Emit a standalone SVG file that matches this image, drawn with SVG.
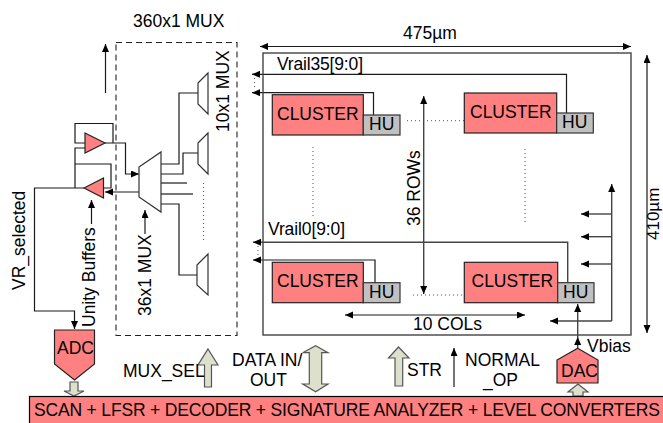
<svg xmlns="http://www.w3.org/2000/svg" width="663" height="423" viewBox="0 0 663 423">
<defs>
<marker id="a" markerUnits="userSpaceOnUse" markerWidth="9" markerHeight="8" refX="8" refY="3.500" orient="auto-start-reverse"><path d="M0,0 L8,3.500 L0,7 z" fill="#000"/></marker>
</defs>
<style>
text{font-family:"Liberation Sans",Arial,sans-serif;font-size:17.500px;fill:#000}
.w{fill:none;stroke:#1a1a1a;stroke-width:1.200}
.g{fill:none;stroke:#444;stroke-width:1.400}
.ar{marker-end:url(#a)}
.ar2{marker-start:url(#a);marker-end:url(#a)}
.dot{fill:none;stroke:#555;stroke-width:1;stroke-dasharray:1 3}
.red{fill:#ff8080;stroke:#222;stroke-width:1.200}
.gray{fill:#c0c0c0;stroke:#333;stroke-width:1.200}
.big{fill:#dde0cc;stroke:#555;stroke-width:1.200}
.mux{fill:#fff;stroke:#333;stroke-width:1.200}
</style>
<g id="connectors">
<path class="w ar" d="M105.500,93V44"/>
<path class="w ar" d="M105,143H125.500V174H139"/>
<path class="w" d="M113,143V123.500H75V143H85"/>
<path class="w" d="M85,148H75V188"/>
<path class="w" d="M75,164H111V188H103"/>
<path class="w ar" d="M139,192H105"/>
<path class="w ar" d="M84,188H34.500V311H74.500V329"/>
<path class="w" d="M161,164H179V93H198"/>
<path class="w" d="M161,174H183V153H198"/>
<path class="w" d="M161,183H187"/>
<path class="w" d="M161,194H193"/>
<path class="w" d="M161,204H179V275H197"/>
<path class="dot" d="M203.500,183V243"/>
<path class="w ar" d="M91.500,224V200"/>
<path class="w ar" d="M145,234V210"/>
<path class="w ar2" d="M260,46.500H631"/>
<path class="w ar2" d="M647,55V333"/>
<path class="w ar" d="M566.500,113V74.300H252"/>
<path class="w ar" d="M373.500,115V92.700H252"/>
<path class="dot" d="M254.500,78V88"/>
<path class="g ar" d="M567.700,282.700V242.300H253"/>
<path class="w ar" d="M375,282.700V260H253"/>
<path class="dot" d="M258,246V256"/>
<path class="dot" d="M407,120.700H477"/>
<path class="dot" d="M313,147V217"/>
<path class="dot" d="M525,149V222"/>
<path class="dot" d="M413,295H483"/>
<path class="g ar2" d="M423.700,96V294"/>
<path class="w ar2" d="M345,315H525"/>
<path class="g ar" d="M611.700,321V184"/>
<path class="g ar" d="M611.700,321H550"/>
<path class="g ar" d="M611.700,214H581"/>
<path class="g ar" d="M611.700,236.700H581"/>
<path class="g ar" d="M611.700,264H581"/>
<path class="g ar" d="M577.700,337V304"/>
<path class="g ar" d="M577.700,348V337"/>
<path class="w ar" d="M454,387V348"/>
</g>
<g id="mux-360"><rect x="116" y="42.500" width="121" height="293" fill="none" stroke="#222" stroke-width="1.100" stroke-dasharray="6 4"/><text x="133" y="27">360x1 MUX</text></g>
<g id="mux-10-a"><path class="mux" d="M198,83L208,73V114L198,104z"/></g>
<g id="mux-10-b"><path class="mux" d="M198,143L208,133V174L198,164z"/></g>
<g id="mux-10-c"><path class="mux" d="M197,265L208,254V295L197,285z"/></g>
<g id="mux-36"><path class="mux" d="M139,167L161,152V212L139,197z"/></g>
<g id="buffer-1"><path class="red" d="M85,133L105,143L85,153z"/></g>
<g id="buffer-2"><path class="red" d="M84,188L103.500,178V198z"/></g>
<g id="label-10x1"><text transform="translate(229,132) rotate(-90)">10x1 MUX</text></g>
<g id="label-36x1"><text transform="translate(151,316) rotate(-90)">36x1 MUX</text></g>
<g id="label-unity"><text transform="translate(95,327) rotate(-90)">Unity Buffers</text></g>
<g id="label-vr"><text transform="translate(25,290) rotate(-90)">VR_selected</text></g>
<g id="adc"><path class="red" d="M54.500,330H94.500V364L74.500,380L54.500,364z"/><text x="57" y="354">ADC</text></g>
<g id="adc-arrow"><path class="big" d="M70,382H78V391H84L74,396L64,391H70z"/></g>
<g id="chip"><rect x="263" y="53" width="368" height="282" fill="none" stroke="#444" stroke-width="1.400"/></g>
<g id="label-475"><text x="403" y="39">475µm</text></g>
<g id="label-410"><text transform="translate(658.500,240) rotate(-90)" style="font-size:17px">410µm</text></g>
<g id="label-vrail35"><text x="277" y="70" textLength="86">Vrail35[9:0]</text></g>
<g id="label-vrail0"><text x="268" y="235" textLength="77">Vrail0[9:0]</text></g>
<g id="label-rows"><text transform="translate(420,226) rotate(-90)">36 ROWs</text></g>
<g id="label-cols"><text x="413" y="330">10 COLs</text></g>
<g id="cluster-1"><rect class="red" x="272.300" y="94.700" width="91" height="40.300"/><text x="277" y="120">CLUSTER</text></g>
<g id="hu-1"><rect class="gray" x="363.300" y="115" width="36.700" height="20"/><text x="369" y="130">HU</text></g>
<g id="cluster-2"><rect class="red" x="464.300" y="93" width="92.400" height="40"/><text x="470" y="118">CLUSTER</text></g>
<g id="hu-2"><rect class="gray" x="556.700" y="113" width="36.600" height="20"/><text x="562" y="128">HU</text></g>
<g id="cluster-3"><rect class="red" x="272.300" y="262.300" width="91" height="40.400"/><text x="277" y="287">CLUSTER</text></g>
<g id="hu-3"><rect class="gray" x="363.300" y="282.700" width="36.700" height="20"/><text x="369" y="298">HU</text></g>
<g id="cluster-4"><rect class="red" x="464.300" y="262.300" width="93.400" height="40.400"/><text x="471.500" y="287">CLUSTER</text></g>
<g id="hu-4"><rect class="gray" x="557.700" y="282.700" width="36.300" height="20"/><text x="563" y="298">HU</text></g>
<g id="mux-sel"><path class="big" d="M208,349L218,365H211.500V387H204.500V365H198z"/><text x="123" y="377">MUX_SEL</text></g>
<g id="data-io"><path class="big" d="M315.700,345.700L328,352.700H321.700V384H328L315.700,391.700L302.700,384H309.300V352.700H302.700z"/><text x="232" y="366">DATA IN/</text><text x="250" y="386">OUT</text></g>
<g id="str"><path class="big" d="M398.500,347L409,358H402.700V386H395V358H388.500z"/><text x="407" y="376">STR</text></g>
<g id="normal-op"><text x="465" y="366">NORMAL</text><text x="483" y="386">_OP</text></g>
<g id="dac"><path class="red" d="M577.700,348.300L598,360V383H557V360z"/><text x="561" y="376.500">DAC</text></g>
<g id="label-vbias"><text x="587" y="352">Vbias</text></g>
<g id="dac-arrow"><path class="big" d="M578,384L588,392H583V396H573V392H568z"/></g>
<g id="bar"><rect x="29.500" y="396.500" width="640" height="32" fill="#ff8080" stroke="#000" stroke-width="1.200"/><text x="34" y="416" textLength="626">SCAN + LFSR + DECODER + SIGNATURE ANALYZER + LEVEL CONVERTERS</text></g>
</svg>
